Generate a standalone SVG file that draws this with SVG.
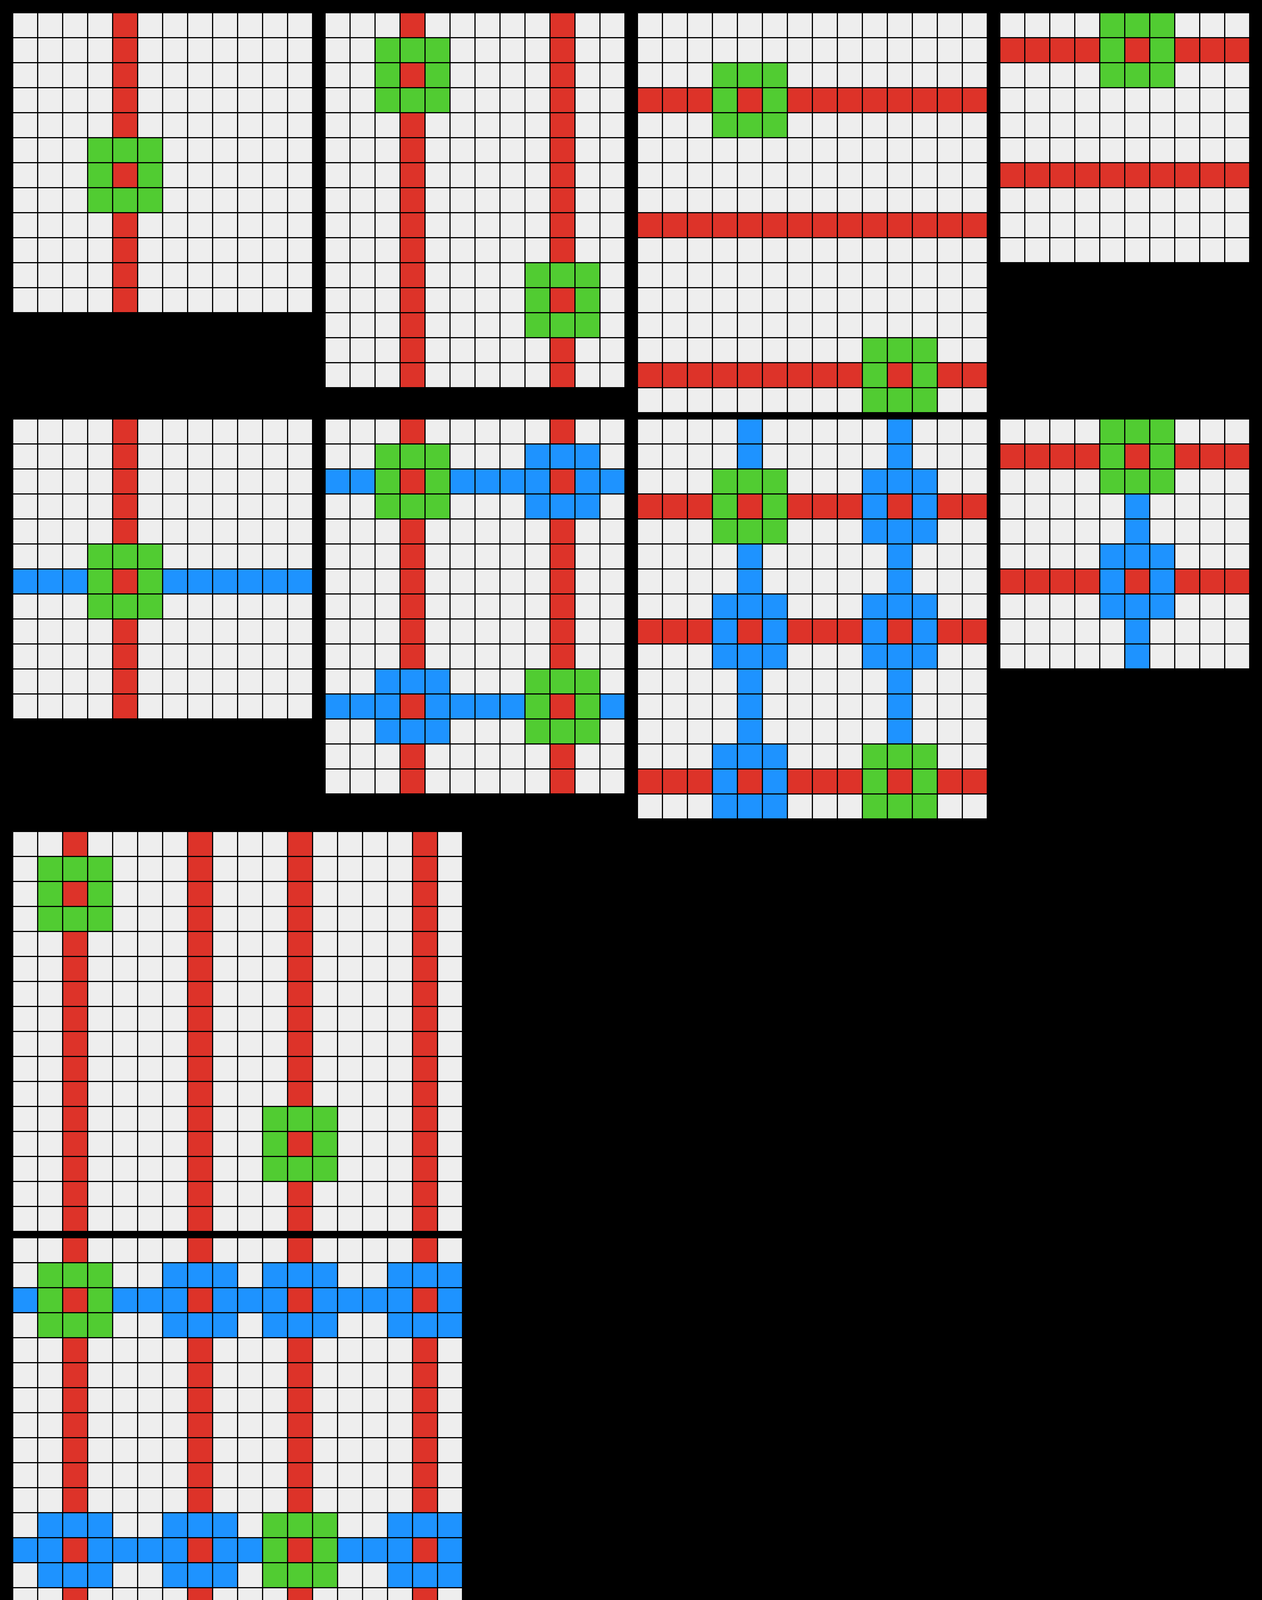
<svg xmlns="http://www.w3.org/2000/svg" xmlns:xlink="http://www.w3.org/1999/xlink" width="3232" height="4224" viewBox="0 0 3232 4224">
<style>
.bg{fill:#EEEEEE}
.r{fill:#DD3329}
.g{fill:#51CC32}
.b{fill:#1E93FF}
.gl{fill:none;stroke:#000000;stroke-width:3}
</style>
<defs>
<path id="gl12x12" class="gl" d="M0 0V768M64 0V768M128 0V768M192 0V768M256 0V768M320 0V768M384 0V768M448 0V768M512 0V768M576 0V768M640 0V768M704 0V768M768 0V768M0 0H768M0 64H768M0 128H768M0 192H768M0 256H768M0 320H768M0 384H768M0 448H768M0 512H768M0 576H768M0 640H768M0 704H768M0 768H768"/>
<path id="gl12x15" class="gl" d="M0 0V960M64 0V960M128 0V960M192 0V960M256 0V960M320 0V960M384 0V960M448 0V960M512 0V960M576 0V960M640 0V960M704 0V960M768 0V960M0 0H768M0 64H768M0 128H768M0 192H768M0 256H768M0 320H768M0 384H768M0 448H768M0 512H768M0 576H768M0 640H768M0 704H768M0 768H768M0 832H768M0 896H768M0 960H768"/>
<path id="gl14x16" class="gl" d="M0 0V1024M64 0V1024M128 0V1024M192 0V1024M256 0V1024M320 0V1024M384 0V1024M448 0V1024M512 0V1024M576 0V1024M640 0V1024M704 0V1024M768 0V1024M832 0V1024M896 0V1024M0 0H896M0 64H896M0 128H896M0 192H896M0 256H896M0 320H896M0 384H896M0 448H896M0 512H896M0 576H896M0 640H896M0 704H896M0 768H896M0 832H896M0 896H896M0 960H896M0 1024H896"/>
<path id="gl10x10" class="gl" d="M0 0V640M64 0V640M128 0V640M192 0V640M256 0V640M320 0V640M384 0V640M448 0V640M512 0V640M576 0V640M640 0V640M0 0H640M0 64H640M0 128H640M0 192H640M0 256H640M0 320H640M0 384H640M0 448H640M0 512H640M0 576H640M0 640H640"/>
<path id="gl18x16" class="gl" d="M0 0V1024M64 0V1024M128 0V1024M192 0V1024M256 0V1024M320 0V1024M384 0V1024M448 0V1024M512 0V1024M576 0V1024M640 0V1024M704 0V1024M768 0V1024M832 0V1024M896 0V1024M960 0V1024M1024 0V1024M1088 0V1024M1152 0V1024M0 0H1152M0 64H1152M0 128H1152M0 192H1152M0 256H1152M0 320H1152M0 384H1152M0 448H1152M0 512H1152M0 576H1152M0 640H1152M0 704H1152M0 768H1152M0 832H1152M0 896H1152M0 960H1152M0 1024H1152"/>
</defs>
<rect x="0" y="0" width="3232" height="4224" fill="#000000"/>

<g id="train1-input" transform="translate(32,32)">
<rect class="bg" x="0" y="0" width="768" height="768"/>
<rect class="r" x="256" y="0" width="64" height="768"/>
<rect class="g" x="192" y="320" width="192" height="192"/>
<rect class="r" x="256" y="384" width="64" height="64"/>
<use xlink:href="#gl12x12" x="0.5" y="0.5"/>
</g>

<g id="train2-input" transform="translate(832,32)">
<rect class="bg" x="0" y="0" width="768" height="960"/>
<rect class="r" x="192" y="0" width="64" height="960"/>
<rect class="r" x="576" y="0" width="64" height="960"/>
<rect class="g" x="128" y="64" width="192" height="192"/>
<rect class="r" x="192" y="128" width="64" height="64"/>
<rect class="g" x="512" y="640" width="192" height="192"/>
<rect class="r" x="576" y="704" width="64" height="64"/>
<use xlink:href="#gl12x15" x="0.5" y="0.5"/>
</g>

<g id="train3-input" transform="translate(1632,32)">
<rect class="bg" x="0" y="0" width="896" height="1024"/>
<rect class="r" x="0" y="192" width="896" height="64"/>
<rect class="r" x="0" y="512" width="896" height="64"/>
<rect class="r" x="0" y="896" width="896" height="64"/>
<rect class="g" x="192" y="128" width="192" height="192"/>
<rect class="r" x="256" y="192" width="64" height="64"/>
<rect class="g" x="576" y="832" width="192" height="192"/>
<rect class="r" x="640" y="896" width="64" height="64"/>
<use xlink:href="#gl14x16" x="0.5" y="0.5"/>
</g>

<g id="train4-input" transform="translate(2560,32)">
<rect class="bg" x="0" y="0" width="640" height="640"/>
<rect class="r" x="0" y="64" width="640" height="64"/>
<rect class="r" x="0" y="384" width="640" height="64"/>
<rect class="g" x="256" y="0" width="192" height="192"/>
<rect class="r" x="320" y="64" width="64" height="64"/>
<use xlink:href="#gl10x10" x="0.5" y="0.5"/>
</g>

<g id="train1-output" transform="translate(32,1072)">
<rect class="bg" x="0" y="0" width="768" height="768"/>
<rect class="r" x="256" y="0" width="64" height="768"/>
<rect class="b" x="0" y="384" width="768" height="64"/>
<rect class="g" x="192" y="320" width="192" height="192"/>
<rect class="r" x="256" y="384" width="64" height="64"/>
<use xlink:href="#gl12x12" x="0.5" y="0.5"/>
</g>

<g id="train2-output" transform="translate(832,1072)">
<rect class="bg" x="0" y="0" width="768" height="960"/>
<rect class="r" x="192" y="0" width="64" height="960"/>
<rect class="r" x="576" y="0" width="64" height="960"/>
<rect class="b" x="0" y="128" width="768" height="64"/>
<rect class="b" x="0" y="704" width="768" height="64"/>
<rect class="g" x="128" y="64" width="192" height="192"/>
<rect class="b" x="512" y="64" width="192" height="192"/>
<rect class="b" x="128" y="640" width="192" height="192"/>
<rect class="g" x="512" y="640" width="192" height="192"/>
<rect class="r" x="192" y="128" width="64" height="64"/>
<rect class="r" x="576" y="128" width="64" height="64"/>
<rect class="r" x="192" y="704" width="64" height="64"/>
<rect class="r" x="576" y="704" width="64" height="64"/>
<use xlink:href="#gl12x15" x="0.5" y="0.5"/>
</g>

<g id="train3-output" transform="translate(1632,1072)">
<rect class="bg" x="0" y="0" width="896" height="1024"/>
<rect class="r" x="0" y="192" width="896" height="64"/>
<rect class="r" x="0" y="512" width="896" height="64"/>
<rect class="r" x="0" y="896" width="896" height="64"/>
<rect class="b" x="256" y="0" width="64" height="1024"/>
<rect class="b" x="640" y="0" width="64" height="1024"/>
<rect class="g" x="192" y="128" width="192" height="192"/>
<rect class="b" x="576" y="128" width="192" height="192"/>
<rect class="b" x="192" y="448" width="192" height="192"/>
<rect class="b" x="576" y="448" width="192" height="192"/>
<rect class="b" x="192" y="832" width="192" height="192"/>
<rect class="g" x="576" y="832" width="192" height="192"/>
<rect class="r" x="256" y="192" width="64" height="64"/>
<rect class="r" x="640" y="192" width="64" height="64"/>
<rect class="r" x="256" y="512" width="64" height="64"/>
<rect class="r" x="640" y="512" width="64" height="64"/>
<rect class="r" x="256" y="896" width="64" height="64"/>
<rect class="r" x="640" y="896" width="64" height="64"/>
<use xlink:href="#gl14x16" x="0.5" y="0.5"/>
</g>

<g id="train4-output" transform="translate(2560,1072)">
<rect class="bg" x="0" y="0" width="640" height="640"/>
<rect class="r" x="0" y="64" width="640" height="64"/>
<rect class="r" x="0" y="384" width="640" height="64"/>
<rect class="b" x="320" y="0" width="64" height="640"/>
<rect class="g" x="256" y="0" width="192" height="192"/>
<rect class="b" x="256" y="320" width="192" height="192"/>
<rect class="r" x="320" y="64" width="64" height="64"/>
<rect class="r" x="320" y="384" width="64" height="64"/>
<use xlink:href="#gl10x10" x="0.5" y="0.5"/>
</g>

<g id="test-input" transform="translate(32,2128)">
<rect class="bg" x="0" y="0" width="1152" height="1024"/>
<rect class="r" x="128" y="0" width="64" height="1024"/>
<rect class="r" x="448" y="0" width="64" height="1024"/>
<rect class="r" x="704" y="0" width="64" height="1024"/>
<rect class="r" x="1024" y="0" width="64" height="1024"/>
<rect class="g" x="64" y="64" width="192" height="192"/>
<rect class="r" x="128" y="128" width="64" height="64"/>
<rect class="g" x="640" y="704" width="192" height="192"/>
<rect class="r" x="704" y="768" width="64" height="64"/>
<use xlink:href="#gl18x16" x="0.5" y="0.5"/>
</g>

<g id="test-output" transform="translate(32,3168)">
<rect class="bg" x="0" y="0" width="1152" height="1024"/>
<rect class="r" x="128" y="0" width="64" height="1024"/>
<rect class="r" x="448" y="0" width="64" height="1024"/>
<rect class="r" x="704" y="0" width="64" height="1024"/>
<rect class="r" x="1024" y="0" width="64" height="1024"/>
<rect class="b" x="0" y="128" width="1152" height="64"/>
<rect class="b" x="0" y="768" width="1152" height="64"/>
<rect class="g" x="64" y="64" width="192" height="192"/>
<rect class="b" x="384" y="64" width="192" height="192"/>
<rect class="b" x="640" y="64" width="192" height="192"/>
<rect class="b" x="960" y="64" width="192" height="192"/>
<rect class="b" x="64" y="704" width="192" height="192"/>
<rect class="b" x="384" y="704" width="192" height="192"/>
<rect class="g" x="640" y="704" width="192" height="192"/>
<rect class="b" x="960" y="704" width="192" height="192"/>
<rect class="r" x="128" y="128" width="64" height="64"/>
<rect class="r" x="448" y="128" width="64" height="64"/>
<rect class="r" x="704" y="128" width="64" height="64"/>
<rect class="r" x="1024" y="128" width="64" height="64"/>
<rect class="r" x="128" y="768" width="64" height="64"/>
<rect class="r" x="448" y="768" width="64" height="64"/>
<rect class="r" x="704" y="768" width="64" height="64"/>
<rect class="r" x="1024" y="768" width="64" height="64"/>
<use xlink:href="#gl18x16" x="0.5" y="0.5"/>
</g>
</svg>
